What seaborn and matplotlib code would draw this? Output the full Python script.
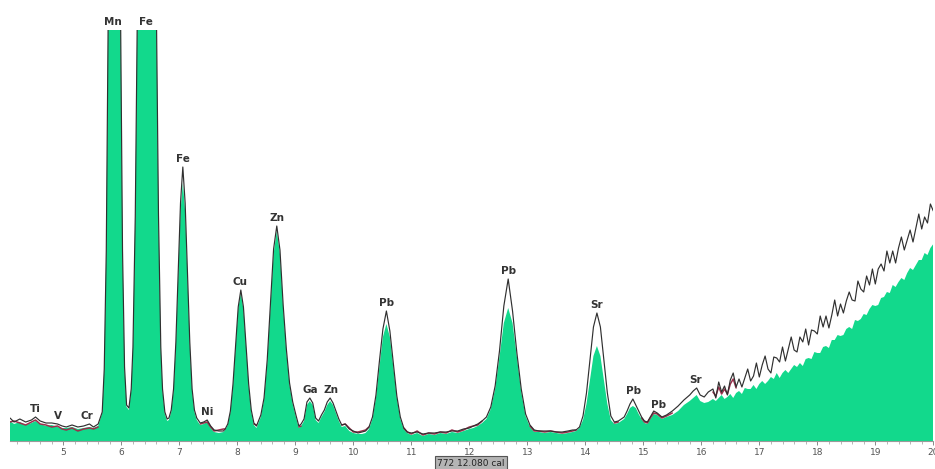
import numpy as np
import pandas as pd
import matplotlib
matplotlib.use("Agg")
import matplotlib.pyplot as plt
import seaborn as sns
from matplotlib.ticker import MultipleLocator

nan = np.nan

# XRF spectrum, peak region: energy (keV), filled spectrum, dark trace, red trace
energy_kev = [
    4.08, 4.15, 4.25, 4.35, 4.45, 4.52, 4.60, 4.70, 4.80, 4.90, 4.98, 5.05, 5.15, 5.25, 5.35, 5.45, 5.52, 5.60,
    5.67, 5.705, 5.74, 5.775, 5.81, 5.845, 5.88, 5.915, 5.95, 5.985, 6.02, 6.055, 6.09,
    6.13, 6.17, 6.20, 6.24, 6.28, 6.33, 6.39, 6.44, 6.49, 6.55, 6.60, 6.64, 6.68, 6.71, 6.75, 6.79,
    6.82, 6.86, 6.90, 6.94, 6.98, 7.02, 7.06, 7.10, 7.14, 7.18, 7.22, 7.26, 7.30,
    7.36, 7.42, 7.48, 7.54, 7.60, 7.68, 7.76,
    7.79, 7.835, 7.88, 7.925, 7.97, 8.015, 8.06, 8.105, 8.15, 8.195, 8.24, 8.285, 8.33,
    8.405, 8.46, 8.515, 8.57, 8.625, 8.68, 8.735, 8.79, 8.845, 8.90, 8.955, 9.01, 9.06,
    9.10, 9.15, 9.20, 9.25, 9.30, 9.35, 9.40, 9.45, 9.50, 9.55, 9.60, 9.65, 9.70, 9.75, 9.80, 9.86, 9.93, 10.00, 10.08,
    10.15, 10.21, 10.27, 10.33, 10.39, 10.45, 10.51, 10.57, 10.63, 10.69, 10.75, 10.81, 10.87, 10.93,
    11.00, 11.10, 11.20, 11.30, 11.40, 11.50, 11.60, 11.70, 11.80, 11.90, 12.00, 12.07,
    12.145, 12.22, 12.295, 12.37, 12.445, 12.52, 12.595, 12.67, 12.745, 12.82, 12.895, 12.97, 13.045, 13.12, 13.20,
    13.30, 13.40, 13.50, 13.60, 13.70, 13.78,
    13.84, 13.90, 13.96, 14.02, 14.08, 14.14, 14.20, 14.26, 14.32, 14.38, 14.44, 14.50, 14.57,
    14.62, 14.67, 14.72, 14.77, 14.82, 14.87, 14.92, 14.97, 15.02, 15.07, 15.12, 15.18, 15.24, 15.32, 15.40, 15.50,
    15.60, 15.70, 15.80, 15.86, 15.92, 15.98, 16.05, 16.12,
]
fill_counts = [
    20, 17, 19, 16, 18, 20, 17, 15, 16, 14, 13, 13, 14, 12, 13, 14, 13, 15,
    28, 71, 190, 436, 790, 1147, 1314, 1147, 790, 436, 190, 72, 34,
    31, 50, 92, 225, 455, 950, 1566, 1800, 1566, 950, 455, 225, 92, 50, 27, 20,
    21, 29, 50, 96, 164, 230, 258, 230, 164, 96, 50, 29, 21,
    16, 17, 19, 13, 9, 8, 9,
    11, 16, 29, 55, 94, 132, 148, 132, 94, 55, 29, 16, 13,
    24, 41, 78, 133, 187, 210, 187, 133, 89, 56, 37, 24, 13,
    15, 20, 36, 40, 36, 21, 18, 24, 29, 36, 40, 36, 28, 20, 14, 15, 10, 8, 7,
    7, 8, 12, 22, 43, 74, 104, 117, 104, 74, 43, 22, 12, 8,
    6, 8, 5, 7, 6, 8, 7, 9, 8, 10, 12, 13,
    15, 18, 22, 32, 52, 84, 118, 133, 118, 84, 49, 25, 14, 9, 9,
    8, 9, 8, 7, 8, 9,
    10, 13, 21, 37, 61, 85, 95, 85, 61, 37, 21, 17, 18,
    20, 22, 27, 33, 35, 33, 27, 22, 18, 17, 22, 27, 26, 22, 24, 26,
    30, 36, 40, 43, 46, 40, 38, 39,
]
trace_counts = [
    23, 19, 22, 19, 21, 24, 20, 18, 18, 17, 15, 14, 16, 14, 15, 17, 14, 17,
    29, 72, 190, 436, 790, 1147, 1314, 1147, 790, 436, 191, 74, 36,
    33, 52, 94, 225, 455, 950, 1566, 1800, 1566, 950, 455, 227, 94, 52, 29, 22,
    23, 31, 52, 99, 168, 238, 274, 238, 168, 99, 52, 31, 23,
    18, 19, 21, 15, 11, 10, 10,
    12, 17, 30, 57, 96, 134, 151, 134, 96, 57, 31, 18, 15,
    26, 43, 81, 137, 192, 215, 191, 136, 92, 58, 39, 26, 15,
    17, 22, 39, 43, 38, 23, 20, 26, 31, 39, 43, 38, 30, 22, 16, 17, 12, 10, 8,
    9, 10, 14, 24, 46, 80, 112, 130, 110, 77, 45, 24, 13, 9,
    8, 9, 7, 8, 8, 9, 9, 10, 10, 12, 13, 15,
    17, 20, 24, 34, 55, 90, 135, 162, 130, 88, 52, 27, 16, 11, 10,
    10, 10, 9, 9, 10, 11,
    11, 14, 25, 48, 81, 114, 128, 114, 81, 48, 25, 19, 20,
    22, 24, 30, 37, 42, 36, 30, 24, 20, 19, 24, 30, 28, 24, 26, 30,
    35, 41, 46, 50, 53, 46, 44, 49,
]
overlay_counts = [
    19, 20, 18, 16, 19, 21, 17, 16, 14, 15, 12, 11, 13, 10, 12, 13, 12, 14,
    nan, nan, nan, nan, nan, nan, nan, nan, nan, nan, nan, nan, nan,
    nan, nan, nan, nan, nan, nan, nan, nan, nan, nan, nan, nan, nan, nan, nan, nan,
    nan, nan, nan, nan, nan, nan, nan, nan, nan, nan, nan, nan, nan,
    17, 18, 19, 14, 10, 11, 12,
    12, nan, nan, nan, nan, nan, nan, nan, nan, nan, nan, 17, 16,
    nan, nan, nan, nan, nan, nan, nan, nan, nan, nan, nan, nan, 14,
    15, nan, nan, nan, nan, nan, nan, nan, nan, nan, nan, nan, nan, nan, 16, 17, 13, 9, 9,
    10, 11, 14, nan, nan, nan, nan, nan, nan, nan, nan, nan, 13, 9,
    7, 10, 6, 8, 7, 9, 8, 11, 9, 11, 14, 15,
    16, 20, nan, nan, nan, nan, nan, nan, nan, nan, nan, nan, 15, 10, 10,
    9, 10, 9, 8, 9, 10,
    11, nan, nan, nan, nan, nan, nan, nan, nan, nan, nan, 18, 19,
    nan, nan, nan, nan, nan, nan, nan, 23, 19, 18, 23, 28, 27, 23, 25, 28,
    nan, nan, nan, nan, nan, nan, nan, nan,
]

# Rising scatter background above 16 keV
tail_kev = [
    16.20, 16.25, 16.30, 16.35, 16.40, 16.45, 16.50, 16.55, 16.60, 16.65,
    16.70, 16.75, 16.80, 16.85, 16.90, 16.95, 17.00, 17.05, 17.10, 17.15,
    17.20, 17.25, 17.30, 17.35, 17.40, 17.45, 17.50, 17.55, 17.60, 17.65,
    17.70, 17.75, 17.80, 17.85, 17.90, 17.95, 18.00, 18.05, 18.10, 18.15,
    18.20, 18.25, 18.30, 18.35, 18.40, 18.45, 18.50, 18.55, 18.60, 18.65,
    18.70, 18.75, 18.80, 18.85, 18.90, 18.95, 19.00, 19.05, 19.10, 19.15,
    19.20, 19.25, 19.30, 19.35, 19.40, 19.45, 19.50, 19.55, 19.60, 19.65,
    19.70, 19.75, 19.80, 19.85, 19.90, 19.95, 20.00,
]
tail_fill = [
    42, 40, 43, 46, 42, 44, 47, 43, 48, 50,
    47, 53, 52, 52, 56, 52, 57, 60, 57, 60,
    64, 62, 68, 63, 68, 71, 68, 72, 76, 74,
    78, 75, 82, 83, 82, 89, 88, 88, 94, 95,
    93, 101, 101, 106, 105, 106, 112, 114, 112, 121,
    120, 122, 127, 126, 132, 136, 135, 136, 143, 144,
    149, 148, 156, 154, 159, 163, 161, 168, 173, 171,
    176, 181, 181, 188, 186, 193, 197,
]
tail_trace = [
    52, 43, 59, 49, 55, 46, 61, 68, 54, 62,
    54, 63, 72, 60, 65, 78, 64, 76, 85, 72,
    68, 84, 83, 79, 94, 80, 92, 104, 91, 89,
    104, 99, 112, 96, 111, 110, 107, 125, 114, 125,
    113, 126, 141, 125, 137, 128, 140, 149, 141, 140,
    160, 152, 149, 165, 156, 172, 157, 172, 177, 170,
    190, 178, 190, 178, 193, 204, 191, 201, 211, 199,
    213, 227, 212, 224, 218, 237, 230,
]
tail_overlay = [
    49, 45, 54, 47, 52, 47, 57, 62, 53, nan,
    nan, nan, nan, nan, nan, nan, nan, nan, nan, nan,
    nan, nan, nan, nan, nan, nan, nan, nan, nan, nan,
    nan, nan, nan, nan, nan, nan, nan, nan, nan, nan,
    nan, nan, nan, nan, nan, nan, nan, nan, nan, nan,
    nan, nan, nan, nan, nan, nan, nan, nan, nan, nan,
    nan, nan, nan, nan, nan, nan, nan, nan, nan, nan,
    nan, nan, nan, nan, nan, nan, nan,
]

# Peak identifications
peak_names = ["Ti", "V", "Cr", "Mn", "Fe", "Fe", "Ni", "Cu", "Zn", "Ga", "Zn",
              "Pb", "Pb", "Sr", "Pb", "Pb", "Sr"]
peak_kev = [4.51, 4.91, 5.41, 5.86, 6.43, 7.06, 7.48, 8.05, 8.68, 9.25, 9.61,
            10.57, 12.67, 14.20, 14.84, 15.26, 15.90]

tick_values = list(range(5, 21))
tick_labels = [str(v) for v in tick_values]
status_text = "772 12.080 cal"

# ---------------------------------------------------------------------------
spec = pd.DataFrame({
    "energy": energy_kev + tail_kev,
    "fill": fill_counts + tail_fill,
    "trace": trace_counts + tail_trace,
    "overlay": overlay_counts + tail_overlay,
})
# contiguous runs of the red trace, drawn as separate line units
valid = spec["overlay"].notna()
spec["run"] = (valid != valid.shift()).cumsum()
overlay = spec[valid]

sns.set_theme(style="white")
plt.rcParams["font.family"] = ["DejaVu Sans"]

fig = plt.figure(figsize=(9.35, 4.69), dpi=100)
ax = fig.add_axes([10 / 935, 1 - 441 / 469, 923.3 / 935, 411 / 469])

y_top = 411
ax.fill_between(spec["energy"], spec["fill"], 0, color="#12d98c", lw=0, zorder=1)
sns.lineplot(data=overlay, x="energy", y="overlay", units="run", estimator=None,
             sort=False, color="#9c2f4c", lw=1.1, ax=ax, zorder=2)
sns.lineplot(data=spec, x="energy", y="trace", estimator=None, sort=False,
             color="#303030", lw=0.85, ax=ax, zorder=3)

ax.set_xlim(4.08, 20.0)
ax.set_ylim(0, y_top)
ax.set_xlabel("")
ax.set_ylabel("")
ax.set_yticks([])
for side in ("top", "left", "right"):
    ax.spines[side].set_visible(False)
ax.spines["bottom"].set_color("#9a9a9a")
ax.spines["bottom"].set_linewidth(0.8)

ax.set_xticks(tick_values)
ax.set_xticklabels(tick_labels)
ax.xaxis.set_minor_locator(MultipleLocator(0.2))
ax.tick_params(axis="x", which="major", direction="out", length=3, width=0.7,
               color="#8a8a8a", labelsize=6.5, labelcolor="#555555", pad=2, bottom=True)
ax.tick_params(axis="x", which="minor", direction="out", length=2, width=0.5,
               color="#9a9a9a", bottom=True)

energy_arr = spec["energy"].to_numpy()
trace_arr = spec["trace"].to_numpy()
for name, e in zip(peak_names, peak_kev):
    near = np.abs(energy_arr - e) <= 0.06
    y = min(trace_arr[near].max(), y_top)
    ax.annotate(name, xy=(e, y), xytext=(0, 2.5), textcoords="offset points",
                ha="center", va="bottom", fontsize=7.5, fontweight="bold",
                color="#333333", annotation_clip=False)

fig.text(471 / 935, 1 - 463 / 469, status_text, ha="center", va="center",
         fontsize=6.5, color="#222222",
         bbox=dict(boxstyle="square,pad=0.3", fc="#b4b4b4", ec="#555555", lw=0.8))

fig.savefig("out.png", dpi=100)
